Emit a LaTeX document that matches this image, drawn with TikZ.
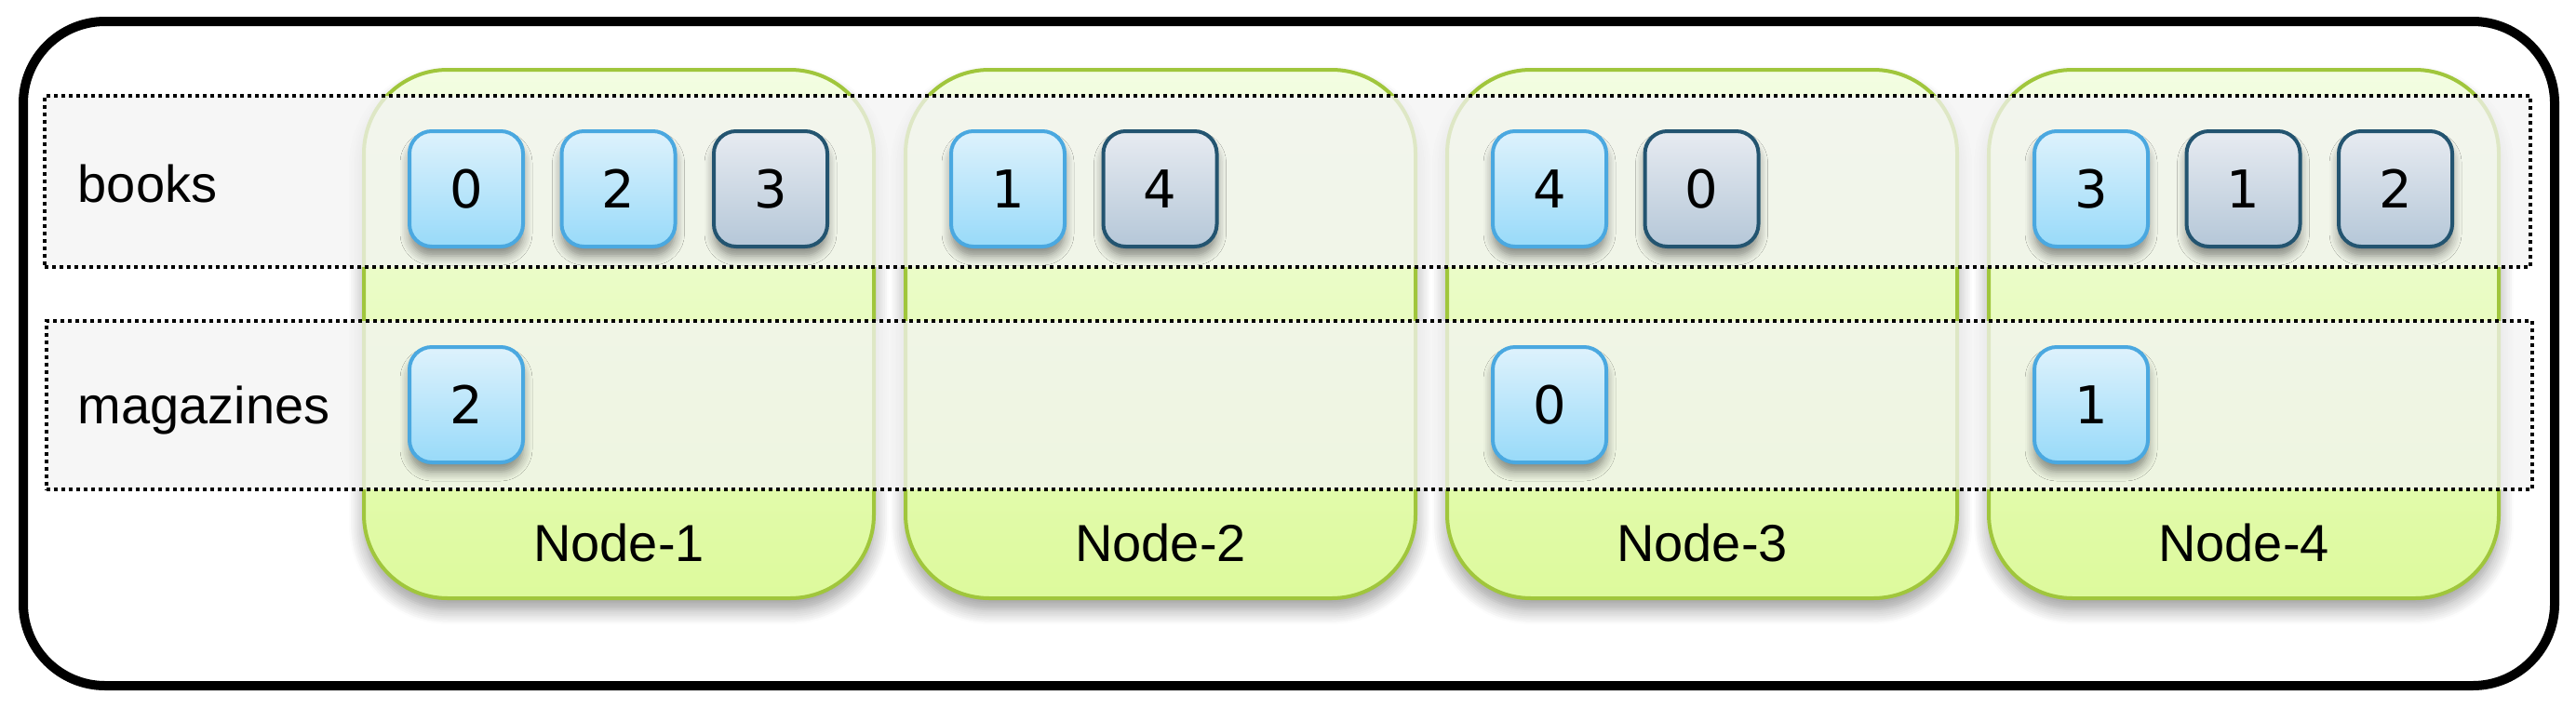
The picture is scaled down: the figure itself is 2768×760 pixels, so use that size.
\documentclass[tikz,border=0pt]{standalone}
\usepackage{fontspec}
\setmainfont{Liberation Sans}
\newfontfamily\digitfont{DejaVu Sans}
\usetikzlibrary{shadows.blur}
\definecolor{grnline}{RGB}{160,198,60}
\definecolor{grntop}{RGB}{243,253,226}
\definecolor{grnbot}{RGB}{221,250,156}
\definecolor{bluline}{RGB}{74,168,224}
\definecolor{blutop}{RGB}{222,242,252}
\definecolor{blubot}{RGB}{152,218,249}
\definecolor{drkline}{RGB}{35,84,112}
\definecolor{drktop}{RGB}{231,235,241}
\definecolor{drkbot}{RGB}{181,199,216}
\definecolor{rowgray}{RGB}{243,243,243}
\begin{document}
\begin{tikzpicture}[x=0.25pt,y=-0.25pt,
  nodebox/.style={rectangle, rounded corners=22.5pt, minimum width=137pt, minimum height=142pt,
    inner sep=0pt, draw=grnline, line width=1pt, top color=grntop, bottom color=grnbot,
    blur shadow={shadow xshift=0pt, shadow yshift=-3pt, shadow blur steps=8, shadow opacity=40, shadow blur radius=4pt}},
  rowbox/.style={rectangle, inner sep=0pt, fill=rowgray, fill opacity=0.75, draw=black,
    line width=0.95pt, dash pattern=on 0.95pt off 1.05pt},
  cell/.style={rectangle, rounded corners=6pt, minimum width=30.5pt, minimum height=31pt,
    inner sep=0pt, line width=1pt, font=\digitfont\fontsize{14}{16}\selectfont,
    blur shadow={shadow xshift=0pt, shadow yshift=-2.5pt, shadow blur steps=6, shadow opacity=45, shadow blur radius=2.5pt}},
  pcell/.style={cell, draw=bluline, top color=blutop, bottom color=blubot},
  rcell/.style={cell, draw=drkline, top color=drktop, bottom color=drkbot},
  lbl/.style={inner sep=0pt, font=\fontsize{14}{17}\selectfont}
]
\useasboundingbox (0,0) rectangle (2768,760);
\draw[line width=2.5pt, rounded corners=22pt] (25,23) rectangle (2745,737);

% cluster nodes
\node[nodebox] (n1) at (665,359) {};
\node[nodebox] (n2) at (1247,359) {};
\node[nodebox] (n3) at (1829,359) {};
\node[nodebox] (n4) at (2411,359) {};

% index rows
\node[rowbox, minimum width=667.75pt, minimum height=46pt] (rbooks) at (1383.5,195) {};
\node[rowbox, minimum width=667.75pt, minimum height=45.25pt] (rmags) at (1385.5,435.5) {};

% row labels
\node[lbl, anchor=base west] (tbooks) at (83,217) {books};
\node[lbl, anchor=base west] (tmags) at (83,455) {magazines};

% node labels
\node[lbl, anchor=base] (l1) at (665,603) {Node-1};
\node[lbl, anchor=base] (l2) at (1247,603) {Node-2};
\node[lbl, anchor=base] (l3) at (1829,603) {Node-3};
\node[lbl, anchor=base] (l4) at (2411,603) {Node-4};

% books shards
\node[pcell] (b10) at (501,203) {0};
\node[pcell] (b12) at (664.5,203) {2};
\node[rcell] (b13) at (828,203) {3};
\node[pcell] (b21) at (1083,203) {1};
\node[rcell] (b24) at (1246.5,203) {4};
\node[pcell] (b34) at (1665,203) {4};
\node[rcell] (b30) at (1828.5,203) {0};
\node[pcell] (b43) at (2247,203) {3};
\node[rcell] (b41) at (2410.5,203) {1};
\node[rcell] (b42) at (2574,203) {2};

% magazines shards
\node[pcell] (m12) at (501,435) {2};
\node[pcell] (m30) at (1665,435) {0};
\node[pcell] (m41) at (2247,435) {1};
\end{tikzpicture}
\end{document}
